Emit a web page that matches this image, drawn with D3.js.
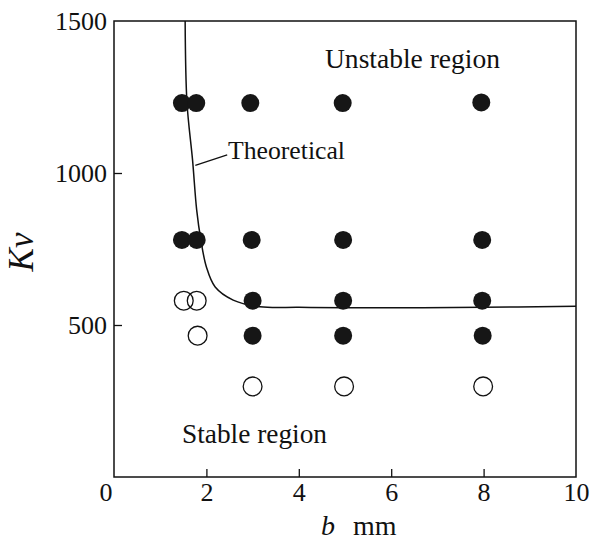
<!DOCTYPE html>
<html>
<head>
<meta charset="utf-8">
<script src="https://cdn.jsdelivr.net/npm/d3@7"></script>
<style>
  html, body { margin: 0; padding: 0; background: #fff; }
  svg { display: block; }
  svg text { fill: #111; }
</style>
</head>
<body>
<svg id="chart" width="591" height="541"></svg>
<script>
// ---- data ----
const xTicks = [0, 2, 4, 6, 8, 10];
const yTicks = [500, 1000, 1500];
const unstableB  = [1.47, 1.78, 2.95, 4.95, 7.95, 1.47, 1.79, 2.98, 4.96, 7.97, 3.0, 4.96, 7.97, 3.0, 4.96, 7.98];
const unstableKv = [1230, 1230, 1230, 1230, 1232, 780, 780, 780, 780, 780, 580, 580, 580, 465, 465, 465];
const stableB  = [1.51, 1.79, 1.81, 3.0, 4.98, 7.99];
const stableKv = [580, 580, 465, 298, 298, 298];
const theoB  = [1.54, 1.58, 1.70, 1.79, 1.88, 2.0, 2.19, 2.58, 3.16, 4.0, 5, 8, 10];
const theoKv = [1500, 1230, 1043, 878, 780, 691, 625, 582, 560, 558, 557, 558, 562];

// pick an installed serif face (fall back gracefully)
function pickSerif() {
  const cands = ["Liberation Serif", "Times New Roman", "Tinos", "DejaVu Serif", "Noto Serif", "FreeSerif", "Nimbus Roman", "Nimbus Roman No9 L", "Times"];
  const c = document.createElement("canvas").getContext("2d");
  const s = "Theoretical Kv 1500 mmWi";
  const base = {};
  for (const g of ["monospace", "sans-serif"]) { c.font = `40px ${g}`; base[g] = c.measureText(s).width; }
  for (const f of cands) {
    let ok = true;
    for (const g of ["monospace", "sans-serif"]) {
      c.font = `40px "${f}", ${g}`;
      if (Math.abs(c.measureText(s).width - base[g]) < 0.01) ok = false;
    }
    if (ok) return `"${f}", serif`;
  }
  return "serif";
}
const FONT = pickSerif();

// ---- layout ----
const svg = d3.select("#chart");
const L = 114, R = 576, T = 21, B = 477;
const x = d3.scaleLinear().domain([0, 10]).range([L, R]);
const y = d3.scaleLinear().domain([0, 1500]).range([B, T]);

// frame
svg.append("rect").attr("x", L).attr("y", T).attr("width", R - L).attr("height", B - T)
  .attr("fill", "none").attr("stroke", "#111").attr("stroke-width", 1.5);

// x axis (ticks inward)
const gx = svg.append("g").attr("transform", `translate(0,${B})`)
  .call(d3.axisBottom(x).tickValues(xTicks).tickSizeInner(-8).tickSizeOuter(0).tickPadding(8).tickFormat(d3.format("d")));
gx.attr("font-family", null).attr("font-size", null);
gx.select(".domain").remove();
gx.selectAll(".tick line").attr("stroke", "#111").attr("stroke-width", 1.3)
  .filter(d => d === 0 || d === 10).remove();
gx.selectAll(".tick text").style("font-family", FONT).style("font-size", "26px")
  .attr("fill", "#111").attr("y", 24).attr("dy", 0)
  .filter(d => d === 0).attr("text-anchor", "end").attr("x", -2);

// y axis (ticks inward)
const gy = svg.append("g").attr("transform", `translate(${L},0)`)
  .call(d3.axisLeft(y).tickValues(yTicks).tickSizeInner(-8).tickSizeOuter(0).tickPadding(7).tickFormat(d3.format("d")));
gy.attr("font-family", null).attr("font-size", null);
gy.select(".domain").remove();
gy.selectAll(".tick line").attr("stroke", "#111").attr("stroke-width", 1.3)
  .filter(d => d === 1500).remove();
gy.selectAll(".tick text").style("font-family", FONT).style("font-size", "26px")
  .attr("fill", "#111").attr("dy", "0.34em");

// axis titles
svg.append("text").attr("transform", "translate(33,252) rotate(-90)")
  .attr("text-anchor", "middle").style("font-family", FONT).style("font-size", "35px")
  .attr("font-style", "italic").text("Kv");
const xt = svg.append("text").attr("x", 321).attr("y", 535).style("font-family", FONT).style("font-size", "28px");
xt.append("tspan").attr("font-style", "italic").text("b");
xt.append("tspan").attr("dx", 18).text("mm");

// theoretical curve
const theo = theoB.map((b, i) => [b, theoKv[i]]);
svg.append("path").datum(theo)
  .attr("d", d3.line().x(d => x(d[0])).y(d => y(d[1])).curve(d3.curveCatmullRom.alpha(0.5)))
  .attr("fill", "none").attr("stroke", "#111").attr("stroke-width", 1.5);

// leader + label
svg.append("line").attr("x1", x(1.76)).attr("y1", y(1025)).attr("x2", x(2.45)).attr("y2", y(1060))
  .attr("stroke", "#111").attr("stroke-width", 1.3);
svg.append("text").attr("x", 228).attr("y", 159).style("font-family", FONT).style("font-size", "25px")
  .attr("textLength", 117).attr("lengthAdjust", "spacingAndGlyphs").text("Theoretical");

// region labels
svg.append("text").attr("x", 325).attr("y", 68).style("font-family", FONT).style("font-size", "27px")
  .attr("textLength", 175).attr("lengthAdjust", "spacingAndGlyphs").text("Unstable region");
svg.append("text").attr("x", 182).attr("y", 443).style("font-family", FONT).style("font-size", "27px")
  .attr("textLength", 145).attr("lengthAdjust", "spacingAndGlyphs").text("Stable region");

// points
svg.append("g").selectAll("circle").data(unstableB.map((b, i) => [b, unstableKv[i]]))
  .join("circle").attr("cx", d => x(d[0])).attr("cy", d => y(d[1])).attr("r", 9)
  .attr("fill", "#161616");
svg.append("g").selectAll("circle").data(stableB.map((b, i) => [b, stableKv[i]]))
  .join("circle").attr("cx", d => x(d[0])).attr("cy", d => y(d[1])).attr("r", 9.4)
  .attr("fill", "none").attr("stroke", "#111").attr("stroke-width", 1.3);
</script>
</body>
</html>
